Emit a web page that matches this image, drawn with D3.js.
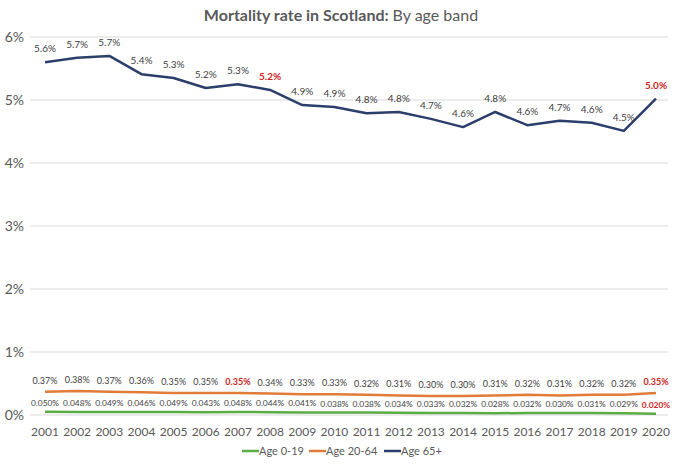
<!DOCTYPE html>
<html>
<head>
<meta charset="utf-8">
<script src="https://cdn.jsdelivr.net/npm/d3@7"></script>
<style>
  body { margin: 0; background: #fff; }
  text { font-family: Lato, "Open Sans", sans-serif; }
</style>
</head>
<body>
<div id="chart"></div>
<script>
// data (percent)
const years = ["2001","2002","2003","2004","2005","2006","2007","2008","2009","2010",
               "2011","2012","2013","2014","2015","2016","2017","2018","2019","2020"];
const age0_19 = [0.050,0.048,0.049,0.046,0.049,0.043,0.048,0.044,0.041,0.038,
                 0.038,0.034,0.033,0.032,0.028,0.032,0.030,0.031,0.029,0.020];
const age20_64 = [0.37,0.38,0.37,0.36,0.35,0.35,0.35,0.34,0.33,0.33,
                  0.32,0.31,0.30,0.30,0.31,0.32,0.31,0.32,0.32,0.35];
const age65 = [5.60,5.67,5.70,5.41,5.35,5.19,5.25,5.16,4.92,4.89,
               4.79,4.81,4.70,4.57,4.81,4.60,4.67,4.64,4.51,5.02];
const yTicks = [0,1,2,3,4,5,6];

// which labels are highlighted in red
const series = [
  {name: "Age 0-19", values: age0_19, color: "#5aac44", dec: 3, red: ["2020"], dy: -6, fs: 8.4},
  {name: "Age 20-64", values: age20_64, color: "#e07b39", dec: 2, red: ["2007","2020"], dy: -8, fs: 9},
  {name: "Age 65+", values: age65, color: "#2c3e6b", dec: 1, red: ["2008","2020"], dy: -10, fs: 10}
];

const width = 680, height = 464;

const svg = d3.select("#chart")
  .append("svg")
    .attr("width", width)
    .attr("height", height);

const x = d3.scalePoint()
    .domain(years)
    .range([45, 656]);

const y = d3.scaleLinear()
    .domain([0, 6])
    .range([415, 37]);

// gridlines
svg.append("g")
  .selectAll("line")
  .data(yTicks)
  .join("line")
    .attr("x1", 30)
    .attr("x2", 668)
    .attr("y1", d => y(d))
    .attr("y2", d => y(d))
    .attr("stroke", "#d9d9d9")
    .attr("stroke-width", 1);

// y axis labels
svg.append("g")
  .selectAll("text")
  .data(yTicks)
  .join("text")
    .attr("x", 24)
    .attr("y", d => y(d) + 5)
    .attr("text-anchor", "end")
    .attr("font-size", 14)
    .attr("fill", "#595959")
    .text(d => d + "%");

// x axis labels
svg.append("g")
  .selectAll("text")
  .data(years)
  .join("text")
    .attr("x", d => x(d))
    .attr("y", 436)
    .attr("text-anchor", "middle")
    .attr("font-size", 12)
    .attr("fill", "#595959")
    .text(d => d);

const line = d3.line()
    .x((d, i) => x(years[i]))
    .y(d => y(d));

series.forEach(s => {
  svg.append("path")
    .datum(s.values)
    .attr("fill", "none")
    .attr("stroke", s.color)
    .attr("stroke-width", 2.5)
    .attr("stroke-linejoin", "round")
    .attr("d", line);

  svg.append("g")
    .selectAll("text")
    .data(s.values)
    .join("text")
      .attr("x", (d, i) => x(years[i]))
      .attr("y", d => y(d) + s.dy)
      .attr("text-anchor", "middle")
      .attr("font-size", s.fs)
      .attr("font-weight", (d, i) => s.red.includes(years[i]) ? "bold" : "normal")
      .attr("fill", (d, i) => s.red.includes(years[i]) ? "#d0241c" : "#404040")
      .text(d => d.toFixed(s.dec) + "%");
});

// title
const title = svg.append("text")
    .attr("x", 341)
    .attr("y", 21)
    .attr("text-anchor", "middle")
    .attr("font-size", 16)
    .attr("fill", "#595959");
title.append("tspan").attr("font-weight", "bold").text("Mortality rate in Scotland: ");
title.append("tspan").text("By age band");

// legend
const legendX = [242, 309, 384];
const legend = svg.append("g")
  .selectAll("g")
  .data(series)
  .join("g")
    .attr("transform", (d, i) => `translate(${legendX[i]}, 451)`);
legend.append("line")
    .attr("x1", 0).attr("x2", 17)
    .attr("stroke", d => d.color)
    .attr("stroke-width", 2.5);
legend.append("text")
    .attr("x", 17)
    .attr("y", 4)
    .attr("font-size", 11)
    .attr("fill", "#595959")
    .text(d => d.name);
</script>
</body>
</html>
